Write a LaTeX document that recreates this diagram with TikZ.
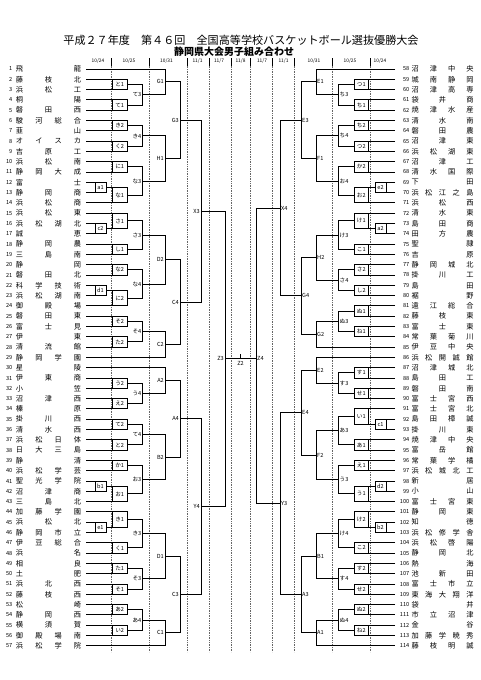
\documentclass[tikz,border=0pt]{standalone}
\usepackage{fontspec}
\newfontfamily\cjk{Noto Sans CJK JP}
\usetikzlibrary{calc}
\makeatletter
\def\spr#1{\spr@a#1\@nil}
\def\spr@a#1#2\@nil{#1\ifx\relax#2\relax\else\hfill\spr@a#2\@nil\fi}
\makeatother
\tikzset{
  br/.style={line width=1pt},
  boxln/.style={line width=0.6pt},
  lab/.style={inner sep=0.4pt,font=\cjk\fontsize{5.6}{6}\selectfont},
  numst/.style={inner sep=0pt,font=\cjk\fontsize{5.6}{6}\selectfont},
  namest/.style={inner sep=0pt,font=\cjk\fontsize{7.2}{7.2}\selectfont},
  datest/.style={inner sep=0pt,font=\cjk\fontsize{4.8}{5}\selectfont},
  tickln/.style={line width=0.5pt},
  dotln/.style={line width=0.45pt,gray!80!black,dash pattern=on 0.6pt off 1.1pt}
}
\newcommand\tmL[3]{%
  \coordinate (t#2) at (86,{58.7+10.3*#1});
  \node[numst,anchor=east] (n#2) at (12.5,{58.7+10.3*#1}) {#2};
  \node[namest] (s#2) at (48.5,{58.7+10.3*#1}) {\makebox[65pt][s]{\spr{#3}}};}
\newcommand\tmR[3]{%
  \coordinate (t#2) at (395,{58.7+10.3*#1});
  \node[numst,anchor=east] (n#2) at (409.5,{58.7+10.3*#1}) {#2};
  \node[namest] (s#2) at (442.5,{58.7+10.3*#1}) {\makebox[62pt][s]{\spr{#3}}};}
\newcommand\mtL[5]{%
  \coordinate (#1) at ($(#2 -| #4)!0.5!(#3 -| #4)$);
  \draw[br] (#2) -- (#2 -| #4) -- (#3 -| #4) -- (#3);
  \node[lab,anchor=east] (#1-l) at ([xshift=-0.6pt]#1) {#5};}
\newcommand\mtR[5]{%
  \coordinate (#1) at ($(#2 -| #4)!0.5!(#3 -| #4)$);
  \draw[br] (#2) -- (#2 -| #4) -- (#3 -| #4) -- (#3);
  \node[lab,anchor=west] (#1-l) at ([xshift=0.6pt]#1) {#5};}
\newcommand\mtB[6]{%
  \coordinate (#1) at ($(#2 -| #4)!0.5!(#3 -| #4)$);
  \draw[br] (#2) -- (#2 -| #4) -- (#3 -| #4) -- (#3);
  \draw[boxln] (#2 -| #5) -- (#3 -| #5);
  \node[lab] (#1-l) at ($(#2 -| #5)!0.5!(#3 -| #4)$) {#6};}
\begin{document}
\begin{tikzpicture}[x=1pt,y=-1pt]
\useasboundingbox (0,0) rectangle (481,680);
\fill[white] (0,0) rectangle (481,680);
% titles
\node[inner sep=0pt,font=\cjk\fontsize{11.1}{12}\selectfont] (title) at (241,40.7) {平成２７年度　第４６回　全国高等学校バスケットボール選抜優勝大会};
\node[inner sep=0pt,font=\cjk\bfseries\fontsize{10}{11}\selectfont] (subtitle) at (234,51.7) {静岡県大会男子組み合わせ};
% date header and dotted column lines
\foreach \xx in {111,149,187,209,231,250,272,294,332,370} {
  \draw[tickln] (\xx,58) -- (\xx,65.5);
  \draw[dotln] (\xx,65.5) -- (\xx,652);
}
\node[datest] (d1) at (98,61.5) {10/24};
\node[datest] (d2) at (129,61.5) {10/25};
\node[datest] (d3) at (166.5,61.5) {10/31};
\node[datest] (d4) at (197.5,61.5) {11/1};
\node[datest] (d5) at (219,61.5) {11/7};
\node[datest] (d6) at (240.5,61.5) {11/8};
\node[datest] (d7) at (262,61.5) {11/7};
\node[datest] (d8) at (283.5,61.5) {11/1};
\node[datest] (d9) at (314,61.5) {10/31};
\node[datest] (d10) at (350,61.5) {10/25};
\node[datest] (d11) at (380,61.5) {10/24};
% columns
\coordinate (xl1) at (106,0);   \coordinate (xl2) at (127,0);
\coordinate (xl3) at (142.5,0); \coordinate (xl4) at (165,0);
\coordinate (xl5) at (180,0);   \coordinate (xl6) at (201,0);
\coordinate (xl7) at (225,0);
\coordinate (bl1) at (95,0);    \coordinate (bl2) at (112.5,0);
\coordinate (xr1) at (375,0);   \coordinate (xr2) at (354,0);
\coordinate (xr3) at (338.5,0); \coordinate (xr4) at (316,0);
\coordinate (xr5) at (301,0);   \coordinate (xr6) at (280,0);
\coordinate (xr7) at (256,0);
\coordinate (br1) at (386,0);   \coordinate (br2) at (368.5,0);
% left teams
\tmL{1}{1}{飛龍}
\tmL{2}{2}{藤枝北}
\tmL{3}{3}{浜松工}
\tmL{4}{4}{桐陽}
\tmL{5}{5}{磐田西}
\tmL{6}{6}{駿河総合}
\tmL{7}{7}{韮山}
\tmL{8}{8}{オイスカ}
\tmL{9}{9}{吉原工}
\tmL{10}{10}{浜松南}
\tmL{11}{11}{静岡大成}
\tmL{12}{12}{富士}
\tmL{13}{13}{静岡商}
\tmL{14}{14}{浜松商}
\tmL{15}{15}{浜松東}
\tmL{16}{16}{浜松湖北}
\tmL{17}{17}{誠恵}
\tmL{18}{18}{静岡農}
\tmL{19}{19}{三島南}
\tmL{20}{20}{静岡}
\tmL{21}{21}{磐田北}
\tmL{22}{22}{科学技術}
\tmL{23}{23}{浜松湖南}
\tmL{24}{24}{御殿場}
\tmL{25}{25}{磐田東}
\tmL{26}{26}{富士見}
\tmL{27}{27}{伊東}
\tmL{28}{28}{清流館}
\tmL{29}{29}{静岡学園}
\tmL{30}{30}{星陵}
\tmL{31}{31}{伊東商}
\tmL{32}{32}{小笠}
\tmL{33}{33}{沼津西}
\tmL{34}{34}{榛原}
\tmL{35}{35}{掛川西}
\tmL{36}{36}{清水西}
\tmL{37}{37}{浜松日体}
\tmL{38}{38}{日大三島}
\tmL{39}{39}{静清}
\tmL{40}{40}{浜松学芸}
\tmL{41}{41}{聖光学院}
\tmL{42}{42}{沼津商}
\tmL{43}{43}{三島北}
\tmL{44}{44}{加藤学園}
\tmL{45}{45}{浜松北}
\tmL{46}{46}{静岡市立}
\tmL{47}{47}{伊豆総合}
\tmL{48}{48}{浜名}
\tmL{49}{49}{相良}
\tmL{50}{50}{土肥}
\tmL{51}{51}{浜北西}
\tmL{52}{52}{藤枝西}
\tmL{53}{53}{松崎}
\tmL{54}{54}{静岡西}
\tmL{55}{55}{横須賀}
\tmL{56}{56}{御殿場南}
\tmL{57}{57}{浜松学院}
% right teams
\tmR{1}{58}{沼津中央}
\tmR{2}{59}{城南静岡}
\tmR{3}{60}{沼津高専}
\tmR{4}{61}{袋井商}
\tmR{5}{62}{焼津水産}
\tmR{6}{63}{清水南}
\tmR{7}{64}{磐田農}
\tmR{8}{65}{沼津東}
\tmR{9}{66}{浜松湖東}
\tmR{10}{67}{沼津工}
\tmR{11}{68}{清水国際}
\tmR{12}{69}{下田}
\tmR{13}{70}{浜松江之島}
\tmR{14}{71}{浜松西}
\tmR{15}{72}{清水東}
\tmR{16}{73}{島田商}
\tmR{17}{74}{田方農}
\tmR{18}{75}{聖隷}
\tmR{19}{76}{吉原}
\tmR{20}{77}{静岡城北}
\tmR{21}{78}{掛川工}
\tmR{22}{79}{島田}
\tmR{23}{80}{裾野}
\tmR{24}{81}{遠江総合}
\tmR{25}{82}{藤枝東}
\tmR{26}{83}{富士東}
\tmR{27}{84}{常葉菊川}
\tmR{28}{85}{伊豆中央}
\tmR{29}{86}{浜松開誠館}
\tmR{30}{87}{沼津城北}
\tmR{31}{88}{島田工}
\tmR{32}{89}{磐田南}
\tmR{33}{90}{富士宮西}
\tmR{34}{91}{富士宮北}
\tmR{35}{92}{島田樟誠}
\tmR{36}{93}{掛川東}
\tmR{37}{94}{焼津中央}
\tmR{38}{95}{富岳館}
\tmR{39}{96}{常葉学橘}
\tmR{40}{97}{浜松城北工}
\tmR{41}{98}{新居}
\tmR{42}{99}{小山}
\tmR{43}{100}{富士宮東}
\tmR{44}{101}{静岡東}
\tmR{45}{102}{知徳}
\tmR{46}{103}{浜松修学舎}
\tmR{47}{104}{浜松啓陽}
\tmR{48}{105}{静岡北}
\tmR{49}{106}{熱海}
\tmR{50}{107}{池新田}
\tmR{51}{108}{富士市立}
\tmR{52}{109}{東海大翔洋}
\tmR{53}{110}{袋井}
\tmR{54}{111}{市立沼津}
\tmR{55}{112}{金谷}
\tmR{56}{113}{加藤学暁秀}
\tmR{57}{114}{藤枝明誠}
% ---------- left bracket ----------
\mtB{La1}{t12}{t13}{xl1}{bl1}{a1}
\mtB{Lc2}{t16}{t17}{xl1}{bl1}{c2}
\mtB{Ld1}{t22}{t23}{xl1}{bl1}{d1}
\mtB{Lb1}{t41}{t42}{xl1}{bl1}{b1}
\mtB{Le1}{t45}{t46}{xl1}{bl1}{e1}
\mtB{Lto1}{t2}{t3}{xl2}{bl2}{と1}
\mtB{Lte1}{t4}{t5}{xl2}{bl2}{て1}
\mtB{Lki2}{t6}{t7}{xl2}{bl2}{き2}
\mtB{Lku2}{t8}{t9}{xl2}{bl2}{く2}
\mtB{Lni1}{t10}{t11}{xl2}{bl2}{に1}
\mtB{Lna1}{La1}{t14}{xl2}{bl2}{な1}
\mtB{Lsa1}{t15}{Lc2}{xl2}{bl2}{さ1}
\mtB{Lsi1}{t18}{t19}{xl2}{bl2}{し1}
\mtB{Lna2}{t20}{t21}{xl2}{bl2}{な2}
\mtB{Lni2}{Ld1}{t24}{xl2}{bl2}{に2}
\mtB{Lso2}{t25}{t26}{xl2}{bl2}{そ2}
\mtB{Lta2}{t27}{t28}{xl2}{bl2}{た2}
\mtB{Lu2}{t31}{t32}{xl2}{bl2}{う2}
\mtB{Le2}{t33}{t34}{xl2}{bl2}{え2}
\mtB{Lte2}{t35}{t36}{xl2}{bl2}{て2}
\mtB{Lto2}{t37}{t38}{xl2}{bl2}{と2}
\mtB{Lka1}{t39}{t40}{xl2}{bl2}{か1}
\mtB{Lo1}{Lb1}{t43}{xl2}{bl2}{お1}
\mtB{Lki1}{t44}{Le1}{xl2}{bl2}{き1}
\mtB{Lku1}{t47}{t48}{xl2}{bl2}{く1}
\mtB{Lta1}{t49}{t50}{xl2}{bl2}{た1}
\mtB{Lso1}{t51}{t52}{xl2}{bl2}{そ1}
\mtB{La2}{t53}{t54}{xl2}{bl2}{あ2}
\mtB{Li2}{t55}{t56}{xl2}{bl2}{い2}
\mtL{Lte3}{Lto1}{Lte1}{xl3}{て3}
\mtL{Lki4}{Lki2}{Lku2}{xl3}{き4}
\mtL{Lna3}{Lni1}{Lna1}{xl3}{な3}
\mtL{Lsa3}{Lsa1}{Lsi1}{xl3}{さ3}
\mtL{Lna4}{Lna2}{Lni2}{xl3}{な4}
\mtL{Lso4}{Lso2}{Lta2}{xl3}{そ4}
\mtL{Lu4}{Lu2}{Le2}{xl3}{う4}
\mtL{Lte4}{Lte2}{Lto2}{xl3}{て4}
\mtL{Lo3}{Lka1}{Lo1}{xl3}{お3}
\mtL{Lki3}{Lki1}{Lku1}{xl3}{き3}
\mtL{Lso3}{Lta1}{Lso1}{xl3}{そ3}
\mtL{La4}{La2}{Li2}{xl3}{あ4}
\mtL{G1}{t1}{Lte3}{xl4}{G1}
\mtL{H1}{Lki4}{Lna3}{xl4}{H1}
\mtL{D2}{Lsa3}{Lna4}{xl4}{D2}
\mtL{C2}{Lso4}{t29}{xl4}{C2}
\mtL{A2}{t30}{Lu4}{xl4}{A2}
\mtL{B2}{Lte4}{Lo3}{xl4}{B2}
\mtL{D1}{Lki3}{Lso3}{xl4}{D1}
\mtL{C1}{La4}{t57}{xl4}{C1}
\mtL{G3}{G1}{H1}{xl5}{G3}
\mtL{C4}{D2}{C2}{xl5}{C4}
\mtL{A4}{A2}{B2}{xl5}{A4}
\mtL{C3}{D1}{C1}{xl5}{C3}
\mtL{X3}{G3}{C4}{xl6}{X3}
\mtL{Y4}{A4}{C3}{xl6}{Y4}
\mtL{Z3}{X3}{Y4}{xl7}{Z3}
% ---------- right bracket ----------
\mtB{Re2}{t69}{t70}{xr1}{br1}{e2}
\mtB{Ra2}{t73}{t74}{xr1}{br1}{a2}
\mtB{Rc1}{t92}{t93}{xr1}{br1}{c1}
\mtB{Rd2}{t98}{t99}{xr1}{br1}{d2}
\mtB{Rb2}{t102}{t103}{xr1}{br1}{b2}
\mtB{Rtu1}{t59}{t60}{xr2}{br2}{つ1}
\mtB{Rti1}{t61}{t62}{xr2}{br2}{ち1}
\mtB{Rti2}{t63}{t64}{xr2}{br2}{ち2}
\mtB{Rtu2}{t65}{t66}{xr2}{br2}{つ2}
\mtB{Rka2}{t67}{t68}{xr2}{br2}{か2}
\mtB{Ro2}{Re2}{t71}{xr2}{br2}{お2}
\mtB{Rke1}{t72}{Ra2}{xr2}{br2}{け1}
\mtB{Rko1}{t75}{t76}{xr2}{br2}{こ1}
\mtB{Rsa2}{t77}{t78}{xr2}{br2}{さ2}
\mtB{Rsi2}{t79}{t80}{xr2}{br2}{し2}
\mtB{Rnu1}{t81}{t82}{xr2}{br2}{ぬ1}
\mtB{Rne1}{t83}{t84}{xr2}{br2}{ね1}
\mtB{Rsu1}{t87}{t88}{xr2}{br2}{す1}
\mtB{Rse1}{t89}{t90}{xr2}{br2}{せ1}
\mtB{Ri1}{t91}{Rc1}{xr2}{br2}{い1}
\mtB{Ra1}{t94}{t95}{xr2}{br2}{あ1}
\mtB{Re1}{t96}{t97}{xr2}{br2}{え1}
\mtB{Ru1}{Rd2}{t100}{xr2}{br2}{う1}
\mtB{Rke2}{t101}{Rb2}{xr2}{br2}{け2}
\mtB{Rko2}{t104}{t105}{xr2}{br2}{こ2}
\mtB{Rsu2}{t106}{t107}{xr2}{br2}{す2}
\mtB{Rse2}{t108}{t109}{xr2}{br2}{せ2}
\mtB{Rnu2}{t110}{t111}{xr2}{br2}{ぬ2}
\mtB{Rne2}{t112}{t113}{xr2}{br2}{ね2}
\mtR{Rti3}{Rtu1}{Rti1}{xr3}{ち3}
\mtR{Rti4}{Rti2}{Rtu2}{xr3}{ち4}
\mtR{Ro4}{Rka2}{Ro2}{xr3}{お4}
\mtR{Rke3}{Rke1}{Rko1}{xr3}{け3}
\mtR{Rsa4}{Rsa2}{Rsi2}{xr3}{さ4}
\mtR{Rnu3}{Rnu1}{Rne1}{xr3}{ぬ3}
\mtR{Rsu3}{Rsu1}{Rse1}{xr3}{す3}
\mtR{Ra3}{Ri1}{Ra1}{xr3}{あ3}
\mtR{Ru3}{Re1}{Ru1}{xr3}{う3}
\mtR{Rke4}{Rke2}{Rko2}{xr3}{け4}
\mtR{Rsu4}{Rsu2}{Rse2}{xr3}{す4}
\mtR{Rnu4}{Rnu2}{Rne2}{xr3}{ぬ4}
\mtR{E1}{t58}{Rti3}{xr4}{E1}
\mtR{F1}{Rti4}{Ro4}{xr4}{F1}
\mtR{H2}{Rke3}{Rsa4}{xr4}{H2}
\mtR{G2}{Rnu3}{t85}{xr4}{G2}
\mtR{E2}{t86}{Rsu3}{xr4}{E2}
\mtR{F2}{Ra3}{Ru3}{xr4}{F2}
\mtR{B1}{Rke4}{Rsu4}{xr4}{B1}
\mtR{A1}{Rnu4}{t114}{xr4}{A1}
\mtR{E3}{E1}{F1}{xr5}{E3}
\mtR{G4}{H2}{G2}{xr5}{G4}
\mtR{E4}{E2}{F2}{xr5}{E4}
\mtR{A3}{B1}{A1}{xr5}{A3}
\mtR{X4}{E3}{G4}{xr6}{X4}
\mtR{Y3}{E4}{A3}{xr6}{Y3}
% Z4 and final
\draw[br] (X4) -- (X4 -| xr7) -- (Y3 -| xr7) -- (Y3);
\coordinate (Z4) at (Z3 -| xr7);
\node[lab,anchor=west] (Z4-l) at ([xshift=0.6pt]Z4) {Z4};
\draw[br] (Z3) -- (Z4);
\coordinate (Zc) at ($(Z3)!0.5!(Z4)$);
\coordinate (Zt) at ([yshift=5pt]Zc);
\draw[boxln] (Zc) -- (Zt);
\node[lab] (Z2-l) at ([yshift=-5pt]Zc) {Z2};
\end{tikzpicture}
\end{document}
